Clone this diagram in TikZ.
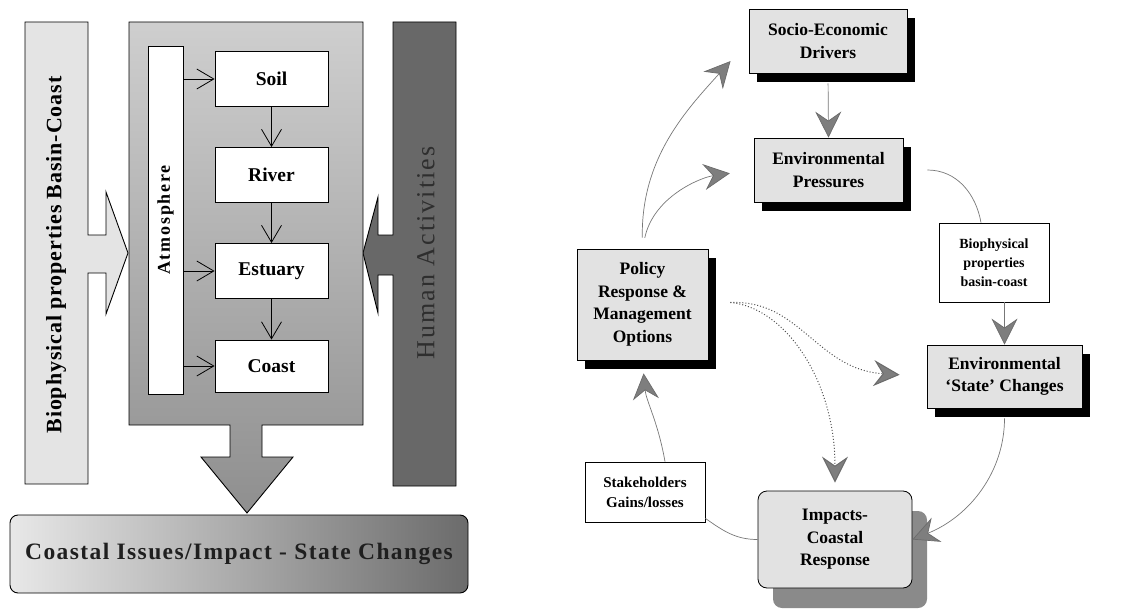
\documentclass[tikz,border=0pt]{standalone}
\usepackage{fontspec}
\setmainfont{Liberation Serif}
\usetikzlibrary{arrows.meta,shadows}

\definecolor{biofill}{HTML}{E4E4E4}
\definecolor{humanfill}{HTML}{686868}
\definecolor{humantext}{HTML}{2E2E2E}
\definecolor{boxgray}{HTML}{E2E2E2}
\definecolor{arrowgray}{HTML}{7E7E7E}
\definecolor{linegray}{HTML}{777777}
\definecolor{impactshadow}{HTML}{8A8A8A}

\begin{document}
\begin{tikzpicture}[x=1pt,y=-1pt,
  leftbox/.style={draw, fill=white, line width=0.9pt, minimum width=113pt,
    minimum height=55pt, inner sep=0pt, font=\bfseries\fontsize{19.5}{22}\selectfont},
  barb/.style={line width=0.8pt, -{Straight Barb[length=17pt,width=20pt]}},
  rbox/.style={draw, fill=boxgray, line width=0.8pt, inner sep=0pt, align=center,
    font=\bfseries\fontsize{17.5}{22.5}\selectfont},
  blackshadow/.style={general shadow={fill=black, shadow xshift=8pt, shadow yshift=-9pt}},
  whitebox/.style={draw, fill=white, line width=0.8pt, inner sep=0pt, align=center},
  bigarrow/.style={draw=linegray, line width=0.7pt,
    -{Stealth[length=26pt,width=26pt,inset=9pt,fill=arrowgray,color=arrowgray!85!black]}},
  thinline/.style={draw=linegray, line width=0.7pt},
  dotline/.style={draw=linegray!70!black, line width=1pt, dotted}
]
\useasboundingbox (0,0) rectangle (1128,610);

% ---------- left panel ----------
% biophysical properties bar with its arrow to the right
\path[draw, fill=biofill, line width=0.9pt]
  (25,22) -- (88,22) -- (88,235) -- (106,235) -- (106,192) -- (128,253)
  -- (106,314) -- (106,273) -- (88,273) -- (88,484) -- (25,484) -- cycle;
\node[rotate=90, font=\bfseries\fontsize{22}{24}\selectfont\addfontfeature{LetterSpace=4}]
  (biotext) at (56,255) {Biophysical properties Basin-Coast};

% human activities bar with its arrow to the left
\path[draw, fill=humanfill, line width=0.9pt]
  (456,22) -- (393,22) -- (393,235) -- (378,235) -- (378,197) -- (363,253)
  -- (378,313) -- (378,275) -- (393,275) -- (393,486) -- (456,486) -- cycle;
\node[rotate=90, text=humantext, font=\fontsize{26}{28}\selectfont\addfontfeature{LetterSpace=8}]
  (humantext) at (426,253) {Human Activities};

% catchment block with its output arrow
\shade[top color=black!19, bottom color=black!44, draw=black, line width=0.9pt]
  (129,22) -- (363,22) -- (363,425) -- (262,425) -- (262,457) -- (293,457)
  -- (247,513) -- (201,457) -- (230,457) -- (230,425) -- (129,425) -- cycle;

% atmosphere column
\node[draw, fill=white, line width=0.9pt, minimum width=35pt, minimum height=348pt,
  inner sep=0pt] (atm) at (165.5,220) {};
\node[rotate=90, font=\bfseries\fontsize{18}{20}\selectfont\addfontfeature{LetterSpace=10}]
  at (atm.center) {Atmosphere};

% compartments
\node[leftbox] (soil)  at (271.5,79)  {Soil};
\node[leftbox] (river) at (271.5,175) {River};
\node[leftbox] (estu)  at (271.5,271) {Estuary};
\node[leftbox, minimum height=52pt] (coast) at (271.5,366) {Coast};

\draw[barb] (soil) -- (river);
\draw[barb] (river) -- (estu);
\draw[barb] (estu) -- (coast);
\draw[barb] (atm.east |- soil) -- (soil);
\draw[barb] (atm.east |- estu) -- (estu);
\draw[barb] (atm.east |- coast) -- (coast);

% outcome bar
\node[draw, line width=0.9pt, rounded corners=8pt, left color=black!9, right color=black!58,
  minimum width=458pt, minimum height=78pt, inner sep=0pt,
  text=black!88, font=\bfseries\fontsize{23.5}{26}\selectfont\addfontfeature{LetterSpace=6}]
  (issues) at (239,554) {Coastal Issues/Impact - State Changes};

% ---------- right panel ----------
\node[rbox, blackshadow, minimum width=158pt, minimum height=64pt]
  (socio) at (828,41) {Socio-Economic\\Drivers};
\node[rbox, blackshadow, minimum width=149pt, minimum height=64pt]
  (envp) at (828.5,170) {Environmental\\Pressures};
\node[rbox, blackshadow, minimum width=131pt, minimum height=111pt]
  (policy) at (642.5,304.5) {Policy\\Response \&\\Management\\Options};
\node[whitebox, minimum width=110pt, minimum height=79pt,
  font=\bfseries\fontsize{14}{19}\selectfont]
  (bio) at (994,262.5) {Biophysical\\properties\\basin-coast};
\node[rbox, blackshadow, minimum width=155pt, minimum height=63pt]
  (state) at (1004.5,376.5) {Environmental\\‘State’ Changes};
\node[whitebox, minimum width=120pt, minimum height=60pt,
  font=\bfseries\fontsize{15}{20}\selectfont]
  (stake) at (645,492) {Stakeholders\\Gains/losses};
\node[rbox, rounded corners=9pt,
  general shadow={fill=impactshadow, shadow xshift=15pt, shadow yshift=-20pt},
  minimum width=154pt, minimum height=97pt]
  (impacts) at (835,539.5) {Impacts-\\Coastal\\Response};

% connectors
\draw[bigarrow, shorten <=10pt] (socio.south) -- (envp.north);
\draw[bigarrow, shorten <=11pt, shorten >=27pt]
  (policy.north) to[out=91,in=228] (socio.west);
\draw[bigarrow, shorten <=11pt, shorten >=24pt]
  (policy.north) to[out=78,in=188] (envp.west);
\draw[thinline] ([xshift=24pt]envp.east) to[out=0,in=100] ([xshift=-13pt]bio.north);
\draw[bigarrow] (state.north |- bio.south) -- (state.north);
\draw[bigarrow, shorten <=10pt] (state.south) to[out=-90,in=22] (impacts.east);
\draw[thinline] (impacts.west) to[out=180,in=-35] ([yshift=4pt]stake.south east);
\draw[bigarrow, shorten >=13pt] ([xshift=20pt]stake.north) to[out=100,in=-85] (policy.south);
\draw[dotline, -{Stealth[length=26pt,width=26pt,inset=9pt,fill=arrowgray,color=arrowgray!85!black]}, shorten >=27pt]
  ([xshift=22pt,yshift=2pt]policy.east) .. controls +(70,-3) and +(-110,-7) .. (state.west);
\draw[dotline, -{Stealth[length=26pt,width=26pt,inset=9pt,fill=arrowgray,color=arrowgray!85!black]}, shorten >=8pt]
  ([xshift=22pt,yshift=2pt]policy.east) .. controls +(55,5) and +(0,-110) .. (impacts.north);
\end{tikzpicture}
\end{document}
